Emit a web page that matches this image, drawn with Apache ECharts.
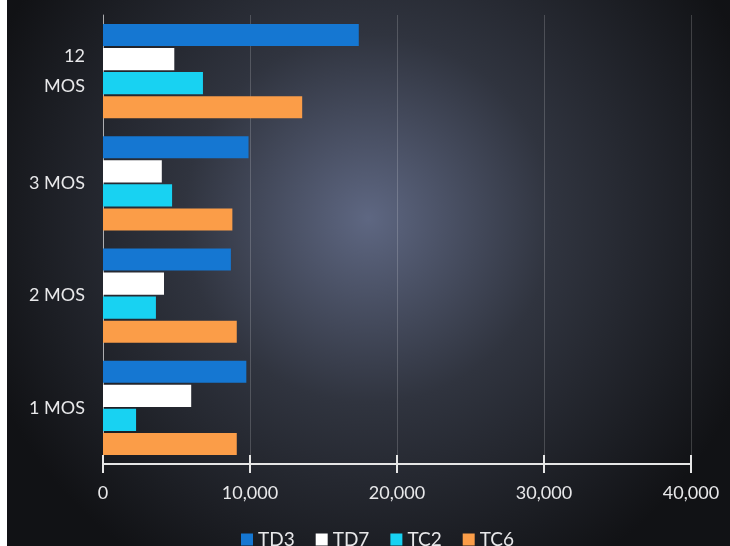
<!DOCTYPE html>
<html>
<head>
<meta charset="utf-8">
<script src="https://cdn.jsdelivr.net/npm/echarts@6/dist/echarts.min.js"></script>
<style>
  html, body { margin: 0; padding: 0; background: #fff; }
  #chart { position: absolute; left: 7px; top: 0; width: 723px; height: 546px; }
</style>
</head>
<body>
<div id="chart"></div>
<script>
const categories = ['1 MOS', '2 MOS', '3 MOS', '12\nMOS']
const seriesNames = ['TD3', 'TD7', 'TC2', 'TC6']
const td3 = [9750, 8700, 9900, 17400]
const td7 = [6000, 4150, 4000, 4850]
const tc2 = [2250, 3600, 4700, 6800]
const tc6 = [9100, 9100, 8800, 13550]
const xTicks = [0, 10000, 20000, 30000, 40000]

const colors = ['#1577d2', '#ffffff', '#18d2f2', '#fb9d48']
const values = [td3, td7, tc2, tc6]
const font = 'Lato, "Open Sans", sans-serif'

const chart = echarts.init(document.getElementById('chart'))

const option = {
  backgroundColor: {
    type: 'radial', x: 0.5, y: 0.4, r: 0.75,
    colorStops: [
      { offset: 0, color: '#5e6782' },
      { offset: 0.45, color: '#30343f' },
      { offset: 1, color: '#111215' }
    ]
  },
  textStyle: { fontFamily: font },
  grid: { left: 96, right: 39, top: 15, bottom: 82 },
  legend: {
    bottom: -8,
    left: 229,
    data: seriesNames,
    icon: 'rect',
    itemWidth: 12,
    itemHeight: 12,
    itemGap: 21,
    textStyle: { color: '#e8e8ea', fontSize: 19, fontFamily: font }
  },
  xAxis: [{
    type: 'value',
    min: xTicks[0],
    max: xTicks[xTicks.length - 1],
    interval: 10000,
    axisLine: { show: true, lineStyle: { color: '#e6e6e6', width: 2 } },
    axisTick: { show: true, length: 9, lineStyle: { color: '#e6e6e6', width: 2 } },
    axisLabel: {
      color: '#e8e8ea', fontSize: 18, margin: 20,
      formatter: v => v.toLocaleString('en-US')
    },
    splitLine: { show: true, lineStyle: { color: 'rgba(255,255,255,0.18)', width: 1 } }
  }, {
    type: 'value',
    position: 'bottom',
    min: xTicks[0],
    max: xTicks[xTicks.length - 1],
    interval: 10000,
    axisLine: { show: false },
    axisTick: { show: true, inside: true, length: 9, lineStyle: { color: '#e6e6e6', width: 2 } },
    axisLabel: { show: false },
    splitLine: { show: false }
  }],
  yAxis: {
    type: 'category',
    data: categories,
    axisLine: { show: true, lineStyle: { color: 'rgba(255,255,255,0.55)', width: 1 } },
    axisTick: { show: false },
    axisLabel: { color: '#e8e8ea', fontSize: 18, margin: 18, lineHeight: 30 }
  },
  series: seriesNames.map((name, i) => ({
    name,
    type: 'bar',
    xAxisIndex: 0,
    data: values[i],
    barCategoryGap: '16%',
    barGap: '9%',
    itemStyle: { color: colors[i] }
  }))
}

chart.setOption(option)
</script>
</body>
</html>
